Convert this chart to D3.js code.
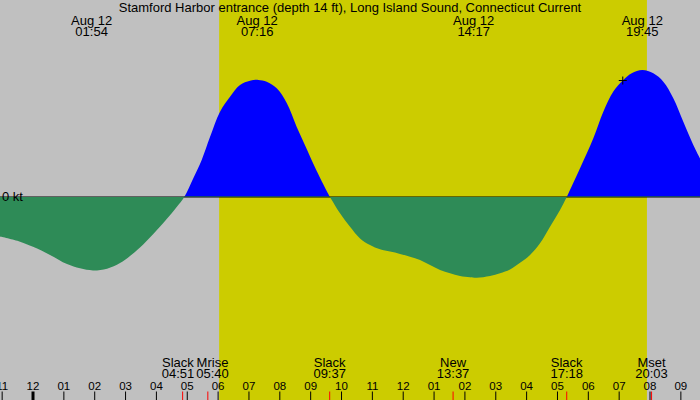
<!DOCTYPE html>
<html><head><meta charset="utf-8">
<script src="https://cdn.jsdelivr.net/npm/d3@7"></script>
<style>
html,body{margin:0;padding:0;background:#c0c0c0;}
svg{display:block;font-family:"Liberation Sans",Arial,sans-serif;}
</style></head>
<body>
<svg id="chart" width="700" height="400"></svg>
<script>
// ---- data (hours relative to Aug 12 00:00) ----
const title = "Stamford Harbor entrance (depth 14 ft), Long Island Sound, Connecticut Current";
const viewStartHour = -1.07, viewEndHour = 21.62;
const sunrise = "06:02", sunset = "19:54";
const curveHours = [-1.070,-0.421,0.000,0.551,1.102,1.524,1.945,2.399,2.820,3.144,3.468,3.899,4.334,4.658,4.904,
  5.196,5.468,5.737,6.062,6.386,6.710,7.034,7.303,7.575,7.900,8.224,8.548,8.872,9.196,9.520,9.627,
  9.951,10.276,10.600,10.924,11.248,11.572,11.896,12.220,12.545,12.869,13.193,13.517,13.841,14.165,14.382,14.814,15.138,15.462,15.786,16.110,16.434,16.759,17.083,17.300,
  17.731,18.162,18.486,18.810,19.134,19.407,19.750,20.107,20.431,20.755,21.079,21.403,21.620];
const curveKnots = [-0.156,-0.176,-0.196,-0.228,-0.264,-0.281,-0.289,-0.282,-0.260,-0.232,-0.199,-0.146,-0.087,-0.039,0,
  0.074,0.146,0.236,0.336,0.395,0.441,0.458,0.461,0.454,0.428,0.370,0.276,0.189,0.102,0.024,0,
  -0.064,-0.117,-0.163,-0.189,-0.206,-0.215,-0.224,-0.235,-0.248,-0.268,-0.287,-0.300,-0.311,-0.316,-0.318,-0.311,-0.300,-0.285,-0.259,-0.228,-0.182,-0.117,-0.051,0,
  0.113,0.231,0.336,0.415,0.461,0.487,0.500,0.487,0.454,0.389,0.296,0.205,0.152];
const peakDates = ["Aug 12","Aug 12","Aug 12","Aug 12"];
const peakTimes = ["01:54","07:16","14:17","19:45"];
const eventNames = ["Slack","Mrise","Slack","New","Slack","Mset"];
const eventTimes = ["04:51","05:40","09:37","13:37","17:18","20:03"];
const tickHours = [-1,0,1,2,3,4,5,6,7,8,9,10,11,12,13,14,15,16,17,18,19,20,21];
const tickLabels = ["11","12","01","02","03","04","05","06","07","08","09","10","11","12","01","02","03","04","05","06","07","08","09"];
const markerTime = "19:07";
const zeroLabel = "0 kt";

// ---- helpers ----
const toH = s => { const [h,m] = s.split(":").map(Number); return h + m/60; };
const W = 700, H = 400;
const svg = d3.select("#chart");
const x = d3.scaleLinear().domain([viewStartHour, viewEndHour]).range([0, W]);
const y = d3.scaleLinear().domain([-0.5, 0.5]).range([324, 70]);
const pts = curveHours.map((h,i) => ({h, v: curveKnots[i]}));

// background + daylight
svg.append("rect").attr("width", W).attr("height", H).attr("fill", "#c0c0c0");
svg.append("rect").attr("x", x(toH(sunrise))).attr("y", 0)
  .attr("width", x(toH(sunset)) - x(toH(sunrise))).attr("height", H).attr("fill", "#cccc00");

// clip paths
const defs = svg.append("defs");
const y0 = y(0);
defs.append("clipPath").attr("id","above").append("rect").attr("x",0).attr("y",0).attr("width",W).attr("height",y0);
defs.append("clipPath").attr("id","below").append("rect").attr("x",0).attr("y",y0-0.5).attr("width",W).attr("height",H-y0);

const area = d3.area().x(d => x(d.h)).y0(y0).y1(d => y(d.v)).curve(d3.curveCatmullRom.alpha(0.5));

svg.append("path").datum(pts).attr("d", area).attr("fill", "#0000ff").attr("clip-path","url(#above)");
svg.append("line").attr("x1",0).attr("x2",W).attr("y1",y0).attr("y2",y0).attr("stroke","#000").attr("stroke-width",1.2);
svg.append("path").datum(pts).attr("d", area).attr("fill", "#2e8b57").attr("clip-path","url(#below)");

// zero label
svg.append("text").attr("x", 2).attr("y", y0 + 4).attr("font-size", 13).attr("fill","#000").text(zeroLabel);

// marker cross on the curve
const mh = toH(markerTime);
const interp = d3.scaleLinear().domain(curveHours).range(curveKnots);
const mx = x(mh), my = y(interp(mh));
svg.append("path").attr("d", `M${mx-4},${my}H${mx+4}M${mx},${my-4}V${my+4}`).attr("stroke","#000").attr("stroke-width",1);

// title
svg.append("text").attr("x", W/2).attr("y", 11.5).attr("text-anchor","middle").attr("font-size", 13).attr("fill","#000").text(title);

// peak labels
peakTimes.forEach((t,i) => {
  const px = x(toH(t));
  svg.append("text").attr("x", px).attr("y", 24.5).attr("text-anchor","middle").attr("font-size",13).text(peakDates[i]);
  svg.append("text").attr("x", px).attr("y", 36).attr("text-anchor","middle").attr("font-size",13).text(t);
});

// hour ticks
const axisG = svg.append("g");
tickHours.forEach((h,i) => {
  const tx = x(h);
  axisG.append("line").attr("x1",tx).attr("x2",tx).attr("y1",391.5).attr("y2",H)
    .attr("stroke","#000").attr("stroke-width", h % 24 === 0 ? 3 : 1);
  axisG.append("text").attr("x",tx).attr("y",389.5).attr("text-anchor","middle").attr("font-size",11.5).text(tickLabels[i]);
});

// events with simple collision avoidance
const evs = eventNames.map((n,i) => ({n, t: eventTimes[i], x: x(toH(eventTimes[i]))}));
evs.forEach(e => {
  svg.append("line").attr("x1",e.x).attr("x2",e.x).attr("y1",391.5).attr("y2",H).attr("stroke","#ff0000").attr("stroke-width",1);
});
const evG = svg.append("g");
evs.forEach(e => {
  e.g = evG.append("g");
  e.t1 = e.g.append("text").attr("y",366.5).attr("text-anchor","middle").attr("font-size",13).text(e.n);
  e.t2 = e.g.append("text").attr("y",378).attr("text-anchor","middle").attr("font-size",13).text(e.t);
  e.w = Math.max(e.t1.node().getComputedTextLength(), e.t2.node().getComputedTextLength());
  e.cx = e.x;
});
for (let i = 1; i < evs.length; i++) {
  const a = evs[i-1], b = evs[i];
  const need = (a.w + b.w)/2 + 2;
  const gap = b.cx - a.cx;
  if (gap < need) { const d = (need - gap)/2; a.cx -= d; b.cx += d; }
}
evs.forEach(e => { e.t1.attr("x", e.cx); e.t2.attr("x", e.cx); });
</script>
</body></html>
